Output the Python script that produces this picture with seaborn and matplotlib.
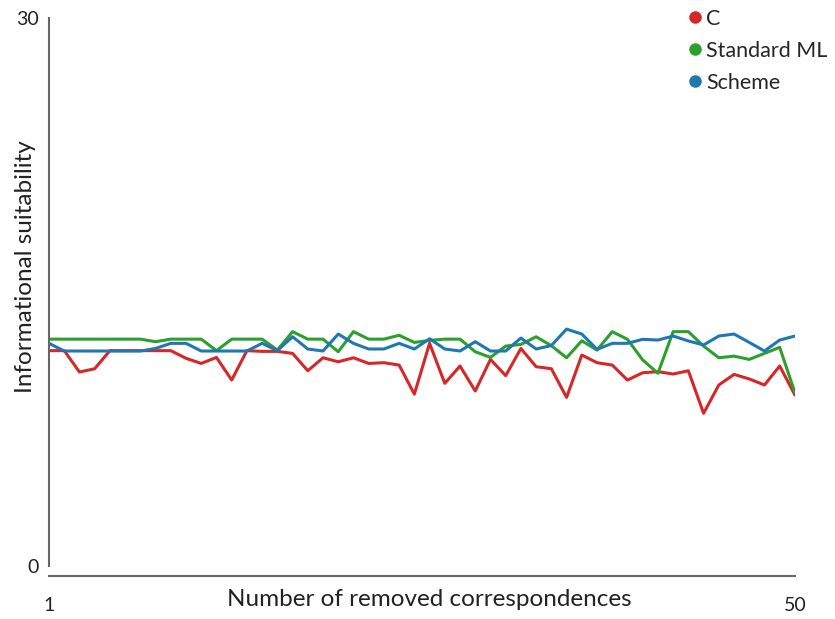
import matplotlib
matplotlib.use("Agg")
import matplotlib.pyplot as plt
from matplotlib.lines import Line2D
import numpy as np
import pandas as pd
import seaborn as sns

# values
steps = list(range(1, 51))
series_names = ["C", "Standard ML", "Scheme"]
series_colors = ["#d62728", "#2ca02c", "#1f77b4"]

c_vals = [11.79, 11.79, 10.62, 10.80, 11.79, 11.79, 11.79, 11.79, 11.79, 11.37,
          11.09, 11.42, 10.18, 11.79, 11.75, 11.75, 11.64, 10.69, 11.40, 11.18,
          11.40, 11.09, 11.13, 11.00, 9.41, 12.19, 10.00, 10.95, 9.58, 11.31,
          10.42, 11.91, 10.91, 10.80, 9.23, 11.55, 11.13, 11.00, 10.18, 10.58,
          10.64, 10.51, 10.69, 8.36, 9.91, 10.49, 10.24, 9.91, 10.95, 9.36]
sml_vals = [12.42, 12.42, 12.42, 12.42, 12.42, 12.42, 12.42, 12.28, 12.42, 12.42,
            12.42, 11.79, 12.42, 12.42, 12.42, 11.82, 12.83, 12.42, 12.42, 11.73,
            12.83, 12.42, 12.42, 12.63, 12.24, 12.35, 12.42, 12.42, 11.73, 11.42,
            12.04, 12.13, 12.55, 12.06, 11.40, 12.33, 11.82, 12.83, 12.41, 11.28,
            10.55, 12.83, 12.83, 12.04, 11.40, 11.49, 11.31, 11.64, 11.97, 9.49]
scheme_vals = [12.19, 11.77, 11.77, 11.77, 11.77, 11.77, 11.77, 11.91, 12.19, 12.19,
               11.77, 11.77, 11.77, 11.77, 12.19, 11.79, 12.55, 11.88, 11.77, 12.70,
               12.19, 11.88, 11.88, 12.19, 11.88, 12.44, 11.88, 11.77, 12.28, 11.77,
               11.77, 12.48, 11.88, 12.07, 12.97, 12.70, 11.86, 12.19, 12.19, 12.41,
               12.37, 12.59, 12.32, 12.10, 12.59, 12.70, 12.24, 11.77, 12.37, 12.59]

df = pd.DataFrame({
    "step": steps * 3,
    "value": c_vals + sml_vals + scheme_vals,
    "series": [n for n in series_names for _ in steps],
})

sns.set_style("white")
plt.rcParams["font.family"] = ["Lato", "DejaVu Sans"]

fig = plt.figure(figsize=(8.35, 6.19), dpi=100)
ax = fig.add_axes([0.0587, 0.0856, 0.8933, 0.8853])

sns.lineplot(data=df, x="step", y="value", hue="series", hue_order=series_names,
             palette=series_colors, linewidth=2.2, legend=False, ax=ax)

ax.set_xlim(1, 50)
ax.set_ylim(0, 30)
ax.set_xticks([1, 50])
ax.set_yticks([0, 30])
ax.set_xlabel("Number of removed correspondences", fontsize=17.5, color="#222222", va="center")
ax.set_ylabel("Informational suitability", fontsize=17.5, color="#222222", va="center")
ax.xaxis.set_label_coords(0.51, -0.062)
ax.yaxis.set_label_coords(-0.032, 0.546)
ax.tick_params(axis="both", labelsize=14, colors="#222222", length=4, width=1.2,
               direction="out", color="#666666")
ax.tick_params(axis="x", pad=11)

sns.despine(ax=ax)
ax.spines["bottom"].set_position(("outward", 7))
for s in ("left", "bottom"):
    ax.spines[s].set_color("#666666")
    ax.spines[s].set_linewidth(1.5)

handles = [Line2D([0], [0], marker="o", linestyle="", markersize=8,
                  markerfacecolor=c, markeredgecolor=c) for c in series_colors]
ax.legend(handles, series_names, loc="upper right", bbox_to_anchor=(1.07, 1.052),
          frameon=False, fontsize=15.5, handletextpad=0.05, labelspacing=0.56,
          handlelength=1.0)

fig.savefig("out.png", dpi=100)
